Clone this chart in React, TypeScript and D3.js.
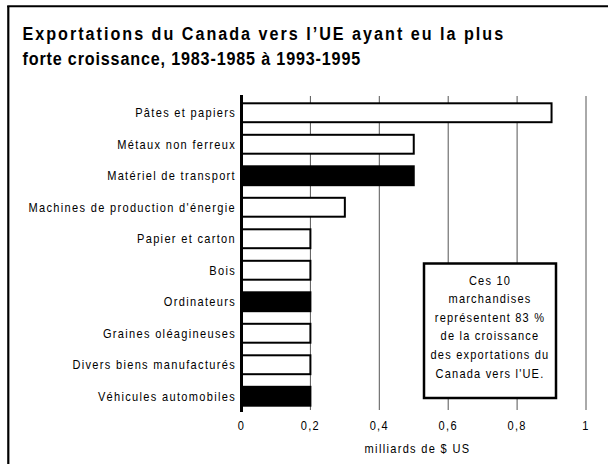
import React from "react";
import * as d3 from "d3";

const categories = [
  "Pâtes et papiers",
  "Métaux non ferreux",
  "Matériel de transport",
  "Machines de production d'énergie",
  "Papier et carton",
  "Bois",
  "Ordinateurs",
  "Graines oléagineuses",
  "Divers biens manufacturés",
  "Véhicules automobiles",
];
const values = [0.9, 0.5, 0.5, 0.3, 0.2, 0.2, 0.2, 0.2, 0.2, 0.2];
const highlighted = [false, false, true, false, false, false, true, false, false, true];
const ticks = [0, 0.2, 0.4, 0.6, 0.8, 1];
const tickLabels = ["0", "0,2", "0,4", "0,6", "0,8", "1"];
const titleLines = [
  "Exportations du Canada vers l\u2019UE ayant eu la plus",
  "forte croissance, 1983-1985 à 1993-1995",
];
const noteLines = [
  "Ces 10",
  "marchandises",
  "représentent 83 %",
  "de la croissance",
  "des exportations du",
  "Canada vers l'UE.",
];
const axisTitle = "milliards de $ US";

const W = 608;
const H = 464;
const FONT = "'Liberation Sans', Arimo, Arial, sans-serif";
const SX = 0.85;

type TProps = {
  x: number;
  y: number;
  anchor?: "start" | "middle" | "end";
  size?: number;
  ls?: number;
  weight?: string;
  len?: number;
  children: React.ReactNode;
};

function T({ x, y, anchor = "start", size = 13, ls = 1.55, weight = "normal", len, children }: TProps) {
  return (
    <text
      transform={`translate(${x},${y}) scale(${SX},1)`}
      textAnchor={anchor}
      fontSize={size}
      fontWeight={weight}
      letterSpacing={ls}
      fill="#000"
      {...(len ? { textLength: len / SX, lengthAdjust: "spacing" } : {})}
    >
      {children}
    </text>
  );
}

export default function App() {
  const x = d3.scaleLinear().domain([0, 1]).range([241.5, 586]);
  const y = d3
    .scaleBand<string>()
    .domain(categories)
    .range([97, 412])
    .paddingInner(0.4)
    .paddingOuter(0.2);

  return (
    <svg
      width={W}
      height={H}
      style={{ position: "absolute", left: 0, top: 0 }}
      fontFamily={FONT}
    >
      <rect x={0} y={0} width={W} height={H} fill="#fff" />
      {/* frame */}
      <line x1={8.3} y1={6} x2={8.3} y2={H} stroke="#000" strokeWidth={2.2} />
      <line x1={7.2} y1={6.3} x2={W} y2={6.3} stroke="#000" strokeWidth={2} />

      {/* title */}
      <T x={22.5} y={39.5} size={19} weight="bold" len={482}>
        {titleLines[0]}
      </T>
      <T x={22.5} y={65.2} size={19} weight="bold" len={339}>
        {titleLines[1]}
      </T>

      {/* gridlines */}
      {ticks.slice(1).map((t) => (
        <line key={t} x1={x(t)} x2={x(t)} y1={96} y2={410} stroke="#555" strokeWidth={1} />
      ))}

      {/* bars */}
      {categories.map((c, i) => (
        <rect
          key={c}
          x={x(0)}
          y={y(c)!}
          width={x(values[i]) - x(0)}
          height={y.bandwidth()}
          fill={highlighted[i] ? "#000" : "#fff"}
          stroke="#000"
          strokeWidth={2}
        />
      ))}

      {/* axis line */}
      <line x1={x(0)} x2={x(0)} y1={95} y2={412} stroke="#000" strokeWidth={3} />

      {/* category labels */}
      {categories.map((c) => (
        <T key={c} x={236} y={y(c)! + y.bandwidth() / 2 + 4.7} anchor="end">
          {c}
        </T>
      ))}

      {/* tick labels */}
      {ticks.map((t, i) => (
        <T key={t} x={x(t)} y={429.7} anchor="middle">
          {tickLabels[i]}
        </T>
      ))}
      <T x={417.5} y={452.7} anchor="middle">
        {axisTitle}
      </T>

      {/* note box */}
      <rect x={424} y={263.5} width={132} height={134.5} fill="#fff" stroke="#000" strokeWidth={2.5} />
      {noteLines.map((t, i) => (
        <T key={i} x={490} y={284.5 + i * 18.6} anchor="middle" ls={1.4}>
          {t}
        </T>
      ))}
    </svg>
  );
}
